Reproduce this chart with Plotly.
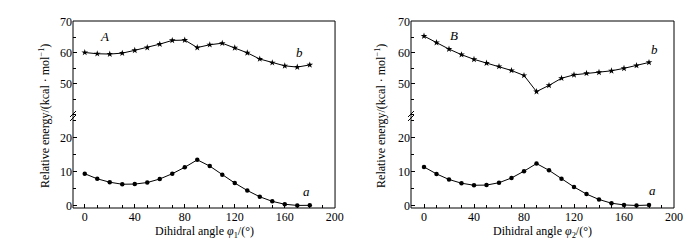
import plotly.graph_objects as go

angles = [0, 10, 20, 30, 40, 50, 60, 70, 80, 90, 100, 110, 120, 130, 140, 150, 160, 170, 180]

A_b = [60.0, 59.6, 59.5, 59.8, 60.7, 61.6, 62.7, 63.9, 64.0, 61.6, 62.5, 63.0, 61.5, 59.9, 57.9, 56.7, 55.7, 55.3, 56.0]
A_a = [9.4, 7.9, 6.9, 6.3, 6.35, 6.8, 7.85, 9.4, 11.3, 13.5, 11.65, 9.1, 6.65, 4.45, 2.6, 1.25, 0.4, 0.05, 0.08]
B_b = [65.3, 63.2, 61.1, 59.3, 57.8, 56.6, 55.5, 54.2, 52.6, 47.4, 49.4, 51.7, 52.8, 53.3, 53.6, 54.1, 54.9, 55.8, 56.8]
B_a = [11.4, 9.35, 7.7, 6.6, 6.0, 6.05, 6.75, 8.15, 10.15, 12.4, 10.4, 7.9, 5.5, 3.4, 1.8, 0.7, 0.2, 0.03, 0.15]

x_ticks = [0, 40, 80, 120, 160, 200]
y_low_ticks = [0, 10, 20]
y_up_ticks = [50, 60, 70]

FONT = "Liberation Serif"
line_style = dict(color="black", width=1)
circ = dict(symbol="circle", size=4.5, color="black")
star = dict(symbol="star", size=5, color="black")

fig = go.Figure()
# Left panel
fig.add_trace(go.Scatter(x=angles, y=A_a, mode="lines+markers", line=line_style, marker=circ, xaxis="x", yaxis="y"))
fig.add_trace(go.Scatter(x=angles, y=A_b, mode="lines+markers", line=line_style, marker=star, xaxis="x", yaxis="y2"))
# Right panel
fig.add_trace(go.Scatter(x=angles, y=B_a, mode="lines+markers", line=line_style, marker=circ, xaxis="x2", yaxis="y3"))
fig.add_trace(go.Scatter(x=angles, y=B_b, mode="lines+markers", line=line_style, marker=star, xaxis="x2", yaxis="y4"))

split = 0.492
tickfont = dict(family=FONT, size=12, color="black")
xcommon = dict(tickvals=x_ticks, ticks="inside", ticklen=4, tickcolor="black", tickfont=tickfont,
               showgrid=False, zeroline=False, showline=False,
               minor=dict(dtick=10, tick0=0, ticks="inside", ticklen=3, tickcolor="black"))
ylow = dict(range=[-0.71, 26.43], tickvals=y_low_ticks, ticks="inside", ticklen=4, tickcolor="black",
            tickfont=tickfont, showgrid=False, zeroline=False, showline=False,
            minor=dict(dtick=5, tick0=0, ticks="inside", ticklen=3, tickcolor="black"),
            domain=[0, split])
yup = dict(range=[39.53, 70.16], tickvals=y_up_ticks, ticks="inside", ticklen=4, tickcolor="black",
           tickfont=tickfont, showgrid=False, zeroline=False, showline=False,
           minor=dict(dtick=5, tick0=0, ticks="inside", ticklen=3, tickcolor="black"),
           domain=[split, 1])

lx = [0, 0.436]
rx = [0.5624, 1]

fig.update_layout(
    width=700, height=241,
    margin=dict(l=65, r=34, t=7, b=41),
    paper_bgcolor="white", plot_bgcolor="white",
    showlegend=False,
    font=dict(family=FONT, size=12, color="black"),
    xaxis=dict(xcommon, domain=lx, range=[-9.4, 200.2], anchor="y"),
    xaxis2=dict(xcommon, domain=rx, range=[-10.4, 200.0], anchor="y3"),
    yaxis=dict(ylow, anchor="x"),
    yaxis2=dict(yup, anchor="x"),
    yaxis3=dict(ylow, anchor="x2"),
    yaxis4=dict(yup, anchor="x2"),
)

shapes = []
for xr in ["x domain", "x2 domain"]:
    shapes.append(dict(type="rect", xref=xr, yref="paper", x0=0, x1=1, y0=0, y1=1,
                       line=dict(color="black", width=1), fillcolor="rgba(0,0,0,0)", layer="above"))
    # break marks on the left axis
    for dy in (-2, 2):
        shapes.append(dict(type="line", xref=xr, yref="paper", xsizemode="pixel", ysizemode="pixel",
                           xanchor=0, yanchor=split, x0=-3, x1=3, y0=dy - 3, y1=dy + 3,
                           line=dict(color="black", width=1)))
fig.update_layout(shapes=shapes)

ann = []
lab_font = dict(family=FONT, size=13, color="black")
ann += [
    dict(x=15.4, y=65.25, xref="x", yref="y2", text="<i>A</i>", showarrow=False, font=lab_font),
    dict(x=172, y=59.85, xref="x", yref="y2", text="<i>b</i>", showarrow=False, font=lab_font),
    dict(x=177, y=4.06, xref="x", yref="y", text="<i>a</i>", showarrow=False, font=lab_font),
    dict(x=23.8, y=65.56, xref="x2", yref="y4", text="<i>B</i>", showarrow=False, font=lab_font),
    dict(x=184.6, y=61.1, xref="x2", yref="y4", text="<i>b</i>", showarrow=False, font=lab_font),
    dict(x=183, y=4.5, xref="x2", yref="y3", text="<i>a</i>", showarrow=False, font=lab_font),
]
plot_w, plot_h = 601, 193
title_font = dict(family=FONT, size=12, color="black")
xt_y = (200 - 225) / plot_h
ann += [
    dict(x=0.5, y=xt_y, xref="x domain", yref="paper", yanchor="middle", xanchor="center",
         text="Dihidral angle <i>φ</i><sub>1</sub>/(°)", showarrow=False, font=title_font),
    dict(x=0.5, y=xt_y, xref="x2 domain", yref="paper", yanchor="middle", xanchor="center",
         text="Dihidral angle <i>φ</i><sub>2</sub>/(°)", showarrow=False, font=title_font),
]
yt_y = (200 - 105) / plot_h
for px in (37, 373):
    ann.append(dict(x=(px - 65) / plot_w, y=yt_y, xref="paper", yref="paper",
                    xanchor="center", yanchor="middle",
                    text="Relative energy/(kcal · mol<sup>−1</sup>)",
                    textangle=-90, showarrow=False, font=title_font))
fig.update_layout(annotations=ann)

fig.write_html("out.html")
